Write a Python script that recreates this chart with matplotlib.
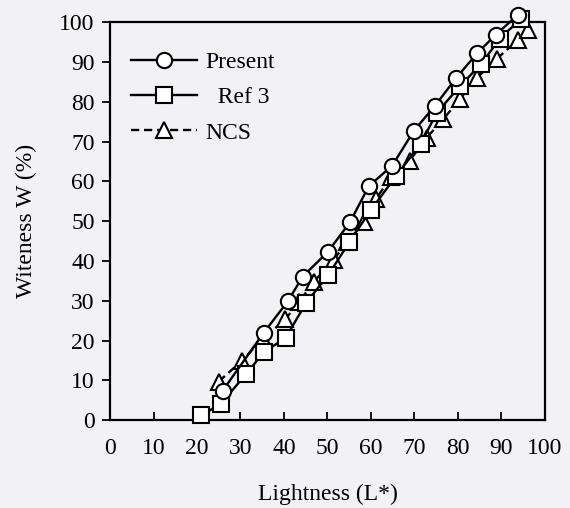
import matplotlib
matplotlib.use("Agg")
import matplotlib.pyplot as plt

# values
present_L = [25.9, 35.3, 40.9, 44.3, 50.1, 55.2, 59.5, 64.9, 69.9, 74.7, 79.5, 84.4, 88.7, 93.7]
present_W = [7.4, 21.9, 29.9, 36.1, 42.3, 49.8, 58.8, 64.0, 72.8, 79.0, 85.9, 92.2, 96.9, 101.8]

ref3_L = [21.0, 25.5, 31.3, 35.4, 40.4, 45.1, 50.2, 55.0, 59.9, 65.8, 71.4, 75.1, 80.4, 85.4, 89.6, 94.4]
ref3_W = [1.2, 4.1, 11.6, 17.1, 20.7, 29.5, 36.5, 44.7, 52.7, 61.4, 69.4, 77.2, 83.9, 89.6, 95.9, 100.8]

ncs_L = [25.0, 30.3, 35.1, 40.3, 43.5, 46.9, 51.4, 54.4, 58.5, 61.2, 64.6, 68.9,
         72.8, 76.6, 80.5, 84.4, 88.9, 93.7, 96.1]
ncs_W = [9.7, 14.9, 20.4, 25.3, 29.8, 34.8, 40.3, 44.7, 49.7, 55.7, 61.0, 65.2,
         71.0, 75.6, 80.8, 86.1, 90.8, 95.5, 98.0]

ticks = list(range(0, 101, 10))

plt.rcParams.update({
    "font.family": "Liberation Serif",
    "font.size": 17,
})

fig = plt.figure(figsize=(5.70, 5.08), dpi=100, facecolor="#f2f2f4")
ax = fig.add_axes([0.193, 0.173, 0.763, 0.783])
ax.set_facecolor("#f2f2f4")

style = dict(color="black", lw=1.7, mfc="white", mec="black", mew=1.5, clip_on=False)
ax.plot(ncs_L, ncs_W, marker="^", ms=12, label="NCS", zorder=3,
        linestyle=(0, (3.5, 2)), **style)
ax.plot(ref3_L, ref3_W, "-", marker="s", ms=11, label="  Ref 3", zorder=4, **style)
ax.plot(present_L, present_W, "-", marker="o", ms=11, label="Present", zorder=5, **style)

ax.set_xlim(0, 100)
ax.set_ylim(0, 100)
ax.set_xticks(ticks)
ax.set_yticks(ticks)
ax.tick_params(axis="x", direction="in", length=6, width=1.3, pad=13)
ax.tick_params(axis="y", direction="out", length=6, width=1.3, pad=5)
for s in ax.spines.values():
    s.set_linewidth(1.6)

ax.set_xlabel("Lightness (L*)", labelpad=18)
ax.set_ylabel("Witeness W (%)", labelpad=16)

h, l = ax.get_legend_handles_labels()
ax.legend(h[::-1], l[::-1], loc="upper left", bbox_to_anchor=(0.0, 0.98),
          frameon=False, handlelength=2.8, handletextpad=0.35, labelspacing=0.58,
          fontsize=17)

fig.savefig("out.png", dpi=100, facecolor=fig.get_facecolor())
